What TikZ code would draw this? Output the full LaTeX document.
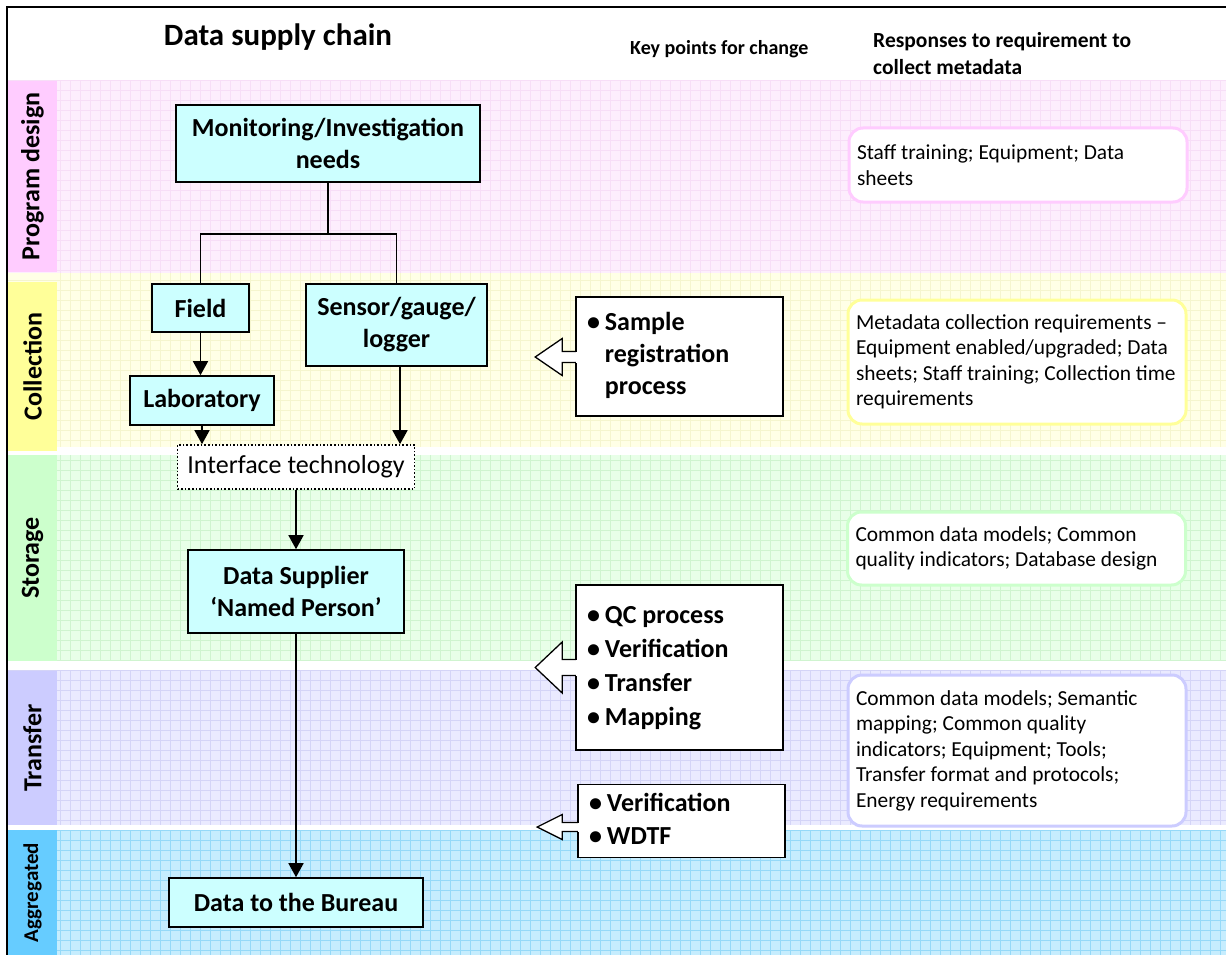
\documentclass[tikz,border=0pt]{standalone}
\usepackage{fontspec}
\setmainfont{Carlito}
\usetikzlibrary{arrows.meta,calc}
\definecolor{pinkbg}{HTML}{FDEEFD}
\definecolor{pinkgrid}{HTML}{F7DEF7}
\definecolor{pinklab}{HTML}{FFCCFF}
\definecolor{yelbg}{HTML}{FFFFE6}
\definecolor{yelgrid}{HTML}{F5F5CE}
\definecolor{yellab}{HTML}{FFFF99}
\definecolor{grnbg}{HTML}{E8FFE8}
\definecolor{grngrid}{HTML}{CFF4CF}
\definecolor{grnlab}{HTML}{CCFFCC}
\definecolor{lavbg}{HTML}{EAEAFF}
\definecolor{lavgrid}{HTML}{D4D4F7}
\definecolor{lavlab}{HTML}{CCCCFF}
\definecolor{bluebg}{HTML}{C6EDFE}
\definecolor{bluegrid}{HTML}{95D9F8}
\definecolor{bluelab}{HTML}{66CCFF}
\definecolor{cyanbox}{HTML}{CCFFFF}
\newcommand{\mkband}[4]{%
  \fill[#3] (8,#1) rectangle (1226,#2);
  \begin{scope}
    \clip (8,#1) rectangle (1226,#2);
    \foreach \gx in {60,70,...,1220} \draw[#4,line width=0.6pt] (\gx,#1) -- (\gx,#2);
    \foreach \gy in {80,90,...,950} \draw[#4,line width=0.6pt] (8,\gy) -- (1226,\gy);
  \end{scope}}
\newcommand{\callarrow}[6]{% node, dy, half shaft, half head, shaft len, head len
  \fill[white] ($(#1.west)+(-1,#2-#3)$) rectangle ($(#1.west)+(1.5,#2+#3)$);
  \filldraw[fill=white,line width=1.3pt,line join=miter]
    ($(#1.west)+(0.6,#2-#3)$) -- ++(-#5-0.6,0) -- ++(0,#3-#4) -- ++(-#6,#4)
    -- ++(#6,#4) -- ++(0,#3-#4) -- ++(#5+0.6,0);}
\begin{document}
\frenchspacing
\begin{tikzpicture}[x=1pt,y=-1pt,
  cbox/.style={draw,line width=1.6pt,fill=cyanbox,align=center,inner sep=2pt,
    font=\fontsize{26}{32}\selectfont\bfseries},
  ifbox/.style={draw,dotted,line width=1.6pt,fill=white,inner sep=2pt,
    font=\fontsize{26}{32}\selectfont},
  conn/.style={line width=1.6pt},
  arr/.style={conn,-{Triangle[width=15pt,length=14pt]}},
  labbox/.style={rotate=90,inner sep=0pt,minimum height=49pt,
    font=\fontsize{26}{30}\selectfont\bfseries},
  rbox/.style={draw,line width=3pt,rounded corners=14pt,fill=white,align=flush left,
    text width=322pt,inner xsep=8pt,font=\fontsize{21.4}{25.5}\selectfont},
  kbox/.style={draw,line width=1.6pt,fill=white,align=flush left,text width=185pt,
    inner xsep=11pt,minimum width=207pt},
  head/.style={inner sep=0pt,font=\fontsize{21.5}{27}\selectfont\bfseries}]
\useasboundingbox (0,0) rectangle (1226,955);
\fill[white] (0,0) rectangle (1226,955);
% bands
\mkband{81}{273}{pinkbg}{pinkgrid}
\mkband{273}{447}{yelbg}{yelgrid}
\mkband{455}{661}{grnbg}{grngrid}
\mkband{670}{825}{lavbg}{lavgrid}
\mkband{830}{955}{bluebg}{bluegrid}
% band labels
\node[labbox,fill=pinklab,minimum width=191pt] (lpd) at (32.5,176.5) {Program design};
\node[labbox,fill=yellab,minimum width=169pt] (lco) at (32.5,366.5) {Collection};
\node[labbox,fill=grnlab,minimum width=206pt] (lst) at (32.5,558) {Storage};
\node[labbox,fill=lavlab,minimum width=154pt] (ltr) at (32.5,748) {Transfer};
\node[labbox,fill=bluelab,minimum width=125pt,font=\fontsize{21}{25}\selectfont\bfseries] (lag) at (32.5,892.5) {Aggregated};
% frame
\draw[line width=2pt] (7,955) -- (7,7) -- (1226,7);
% headers
\node[head,anchor=base,font=\fontsize{31}{37}\selectfont\bfseries] (title) at (278,46) {Data supply chain};
\node[head,anchor=base west,font=\fontsize{20}{27}\selectfont\bfseries] (kp) at (630,55) {Key points for change};
\node[head,anchor=north west,align=flush left] (resp) at (873,32) {Responses to requirement to\\collect metadata};
% supply chain boxes
\node[cbox,minimum width=304pt,minimum height=77pt] (mon) at (328,143.5) {Monitoring/Investigation\\needs};
\node[cbox,minimum width=97pt,minimum height=48pt] (field) at (200.5,308) {Field};
\node[cbox,minimum width=181pt,minimum height=82pt] (sensor) at (396.5,325) {Sensor/gauge/\\logger};
\node[cbox,minimum width=144pt,minimum height=49pt] (lab) at (202,400.5) {Laboratory};
\node[ifbox,minimum width=237pt,minimum height=44pt] (iface) at (296,467) {Interface technology};
\node[cbox,minimum width=216pt,minimum height=83pt] (supp) at (296,591.5) {Data Supplier\\`Named Person'};
\node[cbox,minimum width=254pt,minimum height=49pt] (bureau) at (296,902.5) {Data to the Bureau};
% connectors
\coordinate (split) at ($(mon.south)+(0,51)$);
\draw[conn] (mon.south) -- (split);
\draw[conn] (field.north) |- (split) -| (sensor.north);
\draw[arr] (field.south) -- (field.south |- lab.north);
\draw[arr] (lab.south) -- (lab.south |- iface.north);
\draw[arr] ([xshift=3.5pt]sensor.south) -- ([xshift=3.5pt]sensor.south |- iface.north);
\draw[arr] (iface.south) -- (supp.north);
\draw[arr] (supp.south) -- (bureau.north);
% key points callouts
\node[kbox,minimum height=119pt,font=\fontsize{26}{32}\selectfont\bfseries] (kp1) at (679.5,356.5)
  {\begin{tabular}{@{}l@{\hspace{5pt}}l@{}}•&Sample\\&registration\\&process\end{tabular}};
\callarrow{kp1}{0.5}{5.5}{18.5}{13}{27}
\node[kbox,minimum height=165pt,font=\fontsize{26}{34}\selectfont\bfseries] (kp2) at (679.5,667.5)
  {\begin{tabular}{@{}l@{\hspace{5pt}}l@{}}•&QC process\\•&Verification\\•&Transfer\\•&Mapping\end{tabular}\\[6pt]};
\callarrow{kp2}{0}{8}{25.5}{13}{27}
\node[kbox,minimum height=72pt,font=\fontsize{26}{33}\selectfont\bfseries] (kp3) at (681.5,821)
  {\begin{tabular}{@{}l@{\hspace{5pt}}l@{}}•&Verification\\•&WDTF\end{tabular}};
\callarrow{kp3}{6}{4.5}{12.5}{15}{25}
% responses
\node[rbox,draw=pinklab,minimum height=74pt] (r1) at (1018,165) {Staff training; Equipment; Data\\sheets};
\node[rbox,draw=yellab,minimum height=124pt] (r2) at (1017,362) {Metadata collection requirements --\\Equipment enabled/upgraded; Data\\sheets; Staff training; Collection time\\requirements};
\node[rbox,draw=grnlab,minimum height=73pt] (r3) at (1016.5,548.5) {Common data models; Common\\quality indicators; Database design};
\node[rbox,draw=lavlab,minimum height=151pt] (r4) at (1017,750.5) {Common data models; Semantic\\mapping; Common quality\\indicators; Equipment; Tools;\\Transfer format and protocols;\\Energy requirements};
\end{tikzpicture}
\end{document}
